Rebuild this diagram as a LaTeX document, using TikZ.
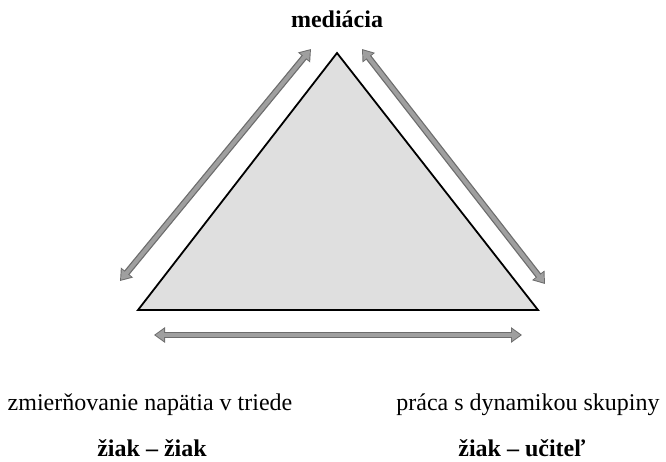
\documentclass[tikz,border=0pt]{standalone}
\usepackage{fontspec}
\setmainfont{Liberation Serif}
\usetikzlibrary{arrows.meta}

\tikzstyle{txt} = [inner sep=0pt, anchor=base, font=\fontsize{24}{28}\selectfont]
\tikzstyle{boldtxt} = [txt, font=\fontsize{24}{28}\selectfont\bfseries]
\tikzstyle{arrout} = [draw=gray!85!black, line width=6.5pt, {Triangle[width=15pt,length=11pt]}-{Triangle[width=15pt,length=11pt]}]
\tikzstyle{arrin} = [draw=gray!75, line width=4pt, shorten >=1.6pt, shorten <=1.6pt, {Triangle[width=11.5pt,length=8.5pt]}-{Triangle[width=11.5pt,length=8.5pt]}]

\begin{document}
\begin{tikzpicture}[x=1pt, y=-1pt]
		\useasboundingbox (0,0) rectangle (666,461);
		\coordinate (Top) at (337,53);
		\coordinate (Left) at (138,310);
		\coordinate (Right) at (538,310);
		\filldraw [fill=gray!25, line width=1.8pt, line join=miter] (Top) -- (Right) -- (Left) -- cycle;
		
		\coordinate (LA) at (120,281);
		\coordinate (LB) at (311,49);
		\coordinate (RA) at (362,49);
		\coordinate (RB) at (545,284);
		\coordinate (BA) at (154,335);
		\coordinate (BB) at (522,335);
		\foreach \a/\b in {LA/LB, RA/RB, BA/BB} {
			\path [arrout] (\a) -- (\b);
			\path [arrin] (\a) -- (\b);
		}
		
		\node [boldtxt] (Mediacia) at (337,27) {mediácia};
		\node [txt] (Napatie) at (150,410) {zmierňovanie napätia v triede};
		\node [txt] (Dynamika) at (528,410) {práca s dynamikou skupiny};
		\node [boldtxt] (ZiakZiak) at (152,456) {žiak – žiak};
		\node [boldtxt] (ZiakUcitel) at (522,456) {žiak – učiteľ};
	\end{tikzpicture}
\end{document}
